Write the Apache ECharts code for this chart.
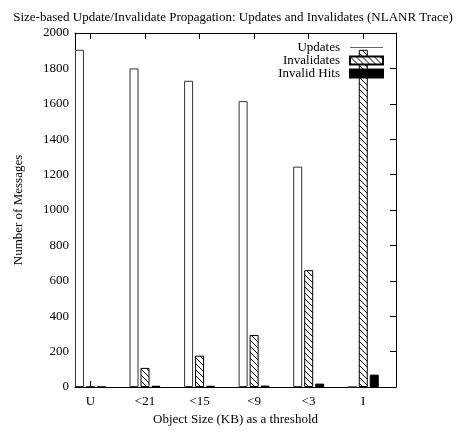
<!DOCTYPE html>
<html><head><meta charset="utf-8">
<script src="https://cdn.jsdelivr.net/npm/echarts@6/dist/echarts.min.js"></script>
<style>html,body{margin:0;padding:0;background:#fff}#c{width:461px;height:432px}</style>
</head><body><div id="c"></div>
<script>
const categories = ['U', '<21', '<15', '<9', '<3', 'I'];
const updates = [1905, 1800, 1730, 1615, 1245, 0];
const invalidates = [0, 108, 177, 294, 660, 1905];
const invalidHits = [0, 7, 7, 8, 19, 70];
const yTicks = [0, 200, 400, 600, 800, 1000, 1200, 1400, 1600, 1800, 2000];

function hatch() {
  const s = 6;
  const c = document.createElement('canvas');
  c.width = s; c.height = s;
  const g = c.getContext('2d');
  g.fillStyle = '#fff'; g.fillRect(0, 0, s, s);
  g.strokeStyle = '#000'; g.lineWidth = 1;
  g.beginPath();
  g.moveTo(-1, -1); g.lineTo(s + 1, s + 1);
  g.moveTo(-1, s - 1); g.lineTo(1, s + 1);
  g.moveTo(s - 1, -1); g.lineTo(s + 1, 1);
  g.stroke();
  return c;
}
const hatchFill = { image: hatch(), repeat: 'repeat' };
const pos = categories.map((_, i) => i);
const toData = arr => arr.map((v, i) => [pos[i], v]);
const font = '"Liberation Serif", "Times New Roman", serif';

const chart = echarts.init(document.getElementById('c'), null, { renderer: 'canvas' });
const xCommon = {
  type: 'value', min: -0.283, max: 5.6,
  splitLine: { show: false },
  axisLine: { show: true, onZero: false, lineStyle: { color: '#000', width: 1 } },
  axisTick: { show: true, inside: true, length: 6, customValues: pos, lineStyle: { color: '#000' } }
};
const yCommon = {
  type: 'value', min: 0, max: 2000, interval: 200,
  splitLine: { show: false },
  axisLine: { show: true, onZero: false, lineStyle: { color: '#000' } },
  axisTick: { show: true, inside: true, length: 6, lineStyle: { color: '#000' } }
};
chart.setOption({
  animation: false,
  backgroundColor: '#fff',
  title: {
    text: 'Size-based Update/Invalidate Propagation: Updates and Invalidates (NLANR Trace)',
    left: 228, textAlign: 'center', top: 6,
    textStyle: { fontFamily: font, fontSize: 13, fontWeight: 'normal', color: '#000' }
  },
  legend: {
    orient: 'vertical', right: 72, top: 36, align: 'right',
    itemWidth: 33, itemHeight: 8, itemGap: 0,
    textStyle: { fontFamily: font, fontSize: 13, color: '#000', lineHeight: 13, padding: [0, 5, 0, 0] },
    data: [
      { name: 'Updates', icon: 'path://M0,0H33V1.2H0Z', itemStyle: { color: '#666', borderWidth: 0 } },
      { name: 'Invalidates', icon: 'rect' },
      { name: 'Invalid Hits', icon: 'rect' }
    ]
  },
  grid: { left: 75, right: 65, top: 33, bottom: 45 },
  xAxis: [
    Object.assign({}, xCommon, {
      position: 'bottom',
      name: 'Object Size (KB) as a threshold', nameLocation: 'middle', nameGap: 26,
      nameTextStyle: { fontFamily: font, fontSize: 13, color: '#000' },
      axisLabel: {
        customValues: pos, margin: 8,
        fontFamily: font, fontSize: 13, color: '#000',
        formatter: v => categories[Math.round(v)]
      }
    }),
    Object.assign({}, xCommon, { position: 'top', axisLabel: { show: false } })
  ],
  yAxis: [
    Object.assign({}, yCommon, {
      position: 'left',
      name: 'Number of Messages', nameLocation: 'middle', nameGap: 50,
      nameTextStyle: { fontFamily: font, fontSize: 13, color: '#000' },
      axisLabel: { fontFamily: font, fontSize: 13, color: '#000', margin: 6,
        formatter: v => (yTicks.indexOf(v) >= 0 ? String(v) : '') }
    }),
    Object.assign({}, yCommon, { position: 'right', axisLabel: { show: false } })
  ],
  series: [
    { name: 'Updates', type: 'bar', data: toData(updates), barWidth: 9, barGap: '22%',
      itemStyle: { color: '#fff', borderColor: '#333', borderWidth: 1 } },
    { name: 'Invalidates', type: 'bar', data: toData(invalidates), barWidth: 9, barGap: '22%',
      itemStyle: { color: hatchFill, borderColor: '#000', borderWidth: 1 } },
    { name: 'Invalid Hits', type: 'bar', data: toData(invalidHits), barWidth: 9, barGap: '22%',
      itemStyle: { color: '#000', borderColor: '#000', borderWidth: 1 } }
  ]
});
</script></body></html>
